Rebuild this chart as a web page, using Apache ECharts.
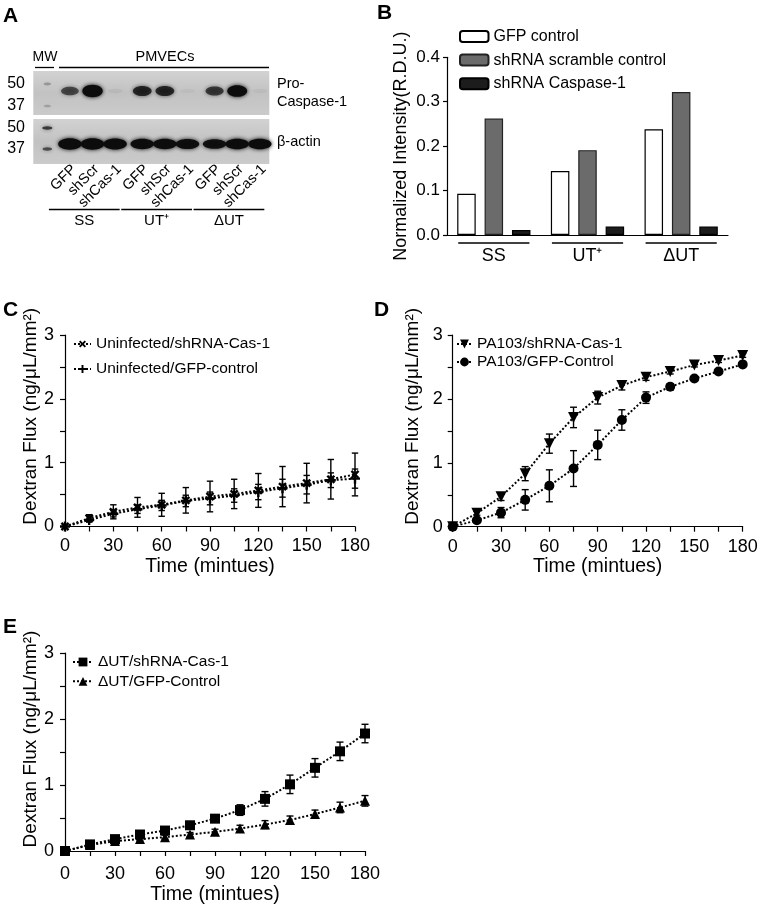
<!DOCTYPE html>
<html><head><meta charset="utf-8">
<script src="https://cdn.jsdelivr.net/npm/echarts@6/dist/echarts.min.js"></script>
<style>html,body{margin:0;padding:0;background:#fff}#c{width:762px;height:910px}</style>
</head><body><div id="c"></div><script>
const FONT = 'Liberation Sans, Arial, Helvetica, sans-serif';

// ---------- Panel A (western blot) ----------
const blotLaneLabels = ['GFP','shScr','shCas-1','GFP','shScr','shCas-1','GFP','shScr','shCas-1'];
const blotGroups = ['SS','UT⁺','ΔUT'];
const proCaspaseBand = [0.55, 1.0, 0.05, 0.72, 0.72, 0.03, 0.62, 0.92, 0.04];
const betaActinBand = [0.95, 0.95, 0.93, 0.86, 0.86, 0.84, 0.80, 0.88, 0.88];
const mwLabels = ['50','37'];
const ladderUpper = [0.25, 0.2];
const ladderLower = [0.7, 0.6];

// ---------- Panel B (bars) ----------
const barCategories = ['SS','UT⁺','ΔUT'];
const gfpControl = [0.093, 0.144, 0.238];
const shScramble = [0.262, 0.191, 0.322];
const shCaspase = [0.011, 0.019, 0.019];
const barTickLabels = ['0.0','0.1','0.2','0.3','0.4'];

// ---------- Panels C, D, E (flux) ----------
const timeMin = [0,15,30,45,60,75,90,105,120,135,150,165,180];
const xTickLabels = ['0','30','60','90','120','150','180'];
const yTickLabels = ['0','1','2','3'];

const uninfCas1    = [0,0.13,0.23,0.30,0.34,0.41,0.47,0.51,0.565,0.625,0.68,0.74,0.815];
const uninfCas1Err = [0,0.055,0.11,0.155,0.18,0.2,0.24,0.23,0.265,0.315,0.31,0.31,0.335];
const uninfGfp     = [0,0.10,0.20,0.27,0.33,0.40,0.44,0.485,0.54,0.60,0.655,0.725,0.75];
const uninfGfpErr  = [0,0.03,0.05,0.065,0.08,0.09,0.10,0.105,0.12,0.14,0.145,0.115,0.15];

const pa103Cas1    = [0,0.21,0.47,0.83,1.30,1.71,2.02,2.21,2.34,2.43,2.53,2.60,2.68];
const pa103Cas1Err = [0,0.03,0.06,0.11,0.15,0.16,0.10,0.07,0.05,0.04,0.03,0.03,0.03];
const pa103Gfp     = [0,0.10,0.22,0.42,0.64,0.91,1.28,1.67,2.02,2.19,2.32,2.43,2.54];
const pa103GfpErr  = [0,0.03,0.08,0.16,0.25,0.28,0.23,0.16,0.09,0.05,0.03,0.03,0.03];

const dutCas1      = [0,0.10,0.18,0.25,0.31,0.39,0.49,0.62,0.79,1.01,1.26,1.51,1.78];
const dutCas1Err   = [0,0.02,0.03,0.03,0.03,0.03,0.05,0.08,0.11,0.14,0.14,0.14,0.14];
const dutGfp       = [0,0.09,0.15,0.18,0.21,0.25,0.29,0.34,0.40,0.47,0.56,0.66,0.76];
const dutGfpErr    = [0,0.02,0.03,0.03,0.03,0.03,0.04,0.05,0.06,0.06,0.06,0.08,0.08];

// ---------------------------------------------------
const GROUP_STEP = 3.2;          // lane units between group starts
const laneX = i => Math.floor(i/3)*GROUP_STEP + (i%3);
const PRO_ROW = 20, ACTIN_ROW = 73;
const LADDER_UP = [13, 35], LADDER_LO = [57, 78];

const bandData = [];
proCaspaseBand.forEach((v,i)=>bandData.push([laneX(i), PRO_ROW, v, 0]));
betaActinBand.forEach((v,i)=>bandData.push([laneX(i), ACTIN_ROW, v, 1]));
ladderUpper.forEach((v,i)=>bandData.push([-1, LADDER_UP[i], v, 2]));
ladderLower.forEach((v,i)=>bandData.push([-1, LADDER_LO[i], v, 2]));

const plusPath = 'path://M3.8,0H6.2V3.8H10V6.2H6.2V10H3.8V6.2H0V3.8H3.8Z';

function fluxX(gi, nameGap, margin){
  return {type:'value', gridIndex:gi, min:0, max:180, interval:15,
    axisLine:{show:true, onZero:false, lineStyle:{color:'#000', width:1.2}},
    axisTick:{show:true, length:5, lineStyle:{color:'#000', width:1.2}},
    splitLine:{show:false},
    axisLabel:{fontSize:18, color:'#000', fontFamily:FONT, margin:margin,
      formatter: v => xTickLabels.indexOf(String(v))>=0 ? String(v) : ''},
    name:'Time (mintues)', nameLocation:'middle', nameGap:nameGap,
    nameTextStyle:{fontSize:19.5, color:'#000', fontFamily:FONT}};
}
function fluxY(gi, nameGap, margin, shift){
  return {type:'value', gridIndex:gi, min:0, max:3, interval:0.5,
    axisLine:{show:true, onZero:false, lineStyle:{color:'#000', width:1.2}},
    axisTick:{show:true, length:5, lineStyle:{color:'#000', width:1.2}},
    splitLine:{show:false},
    axisLabel:{fontSize:18, color:'#000', fontFamily:FONT, margin:margin,
      formatter: v => yTickLabels.indexOf(String(v))>=0 ? String(v) : ''},
    name:'Dextran Flux (ng/μL/mm²)', nameLocation:'middle', nameGap:nameGap, nameRotate:90,
    nameTextStyle:{fontSize:19, color:'#000', fontFamily:FONT, padding:[0,0,0,shift]}};
}
function lineSeries(name, gi, vals, symbol, size, rotate, lineType){
  return {type:'line', name:name, xAxisIndex:gi, yAxisIndex:gi,
    data: timeMin.map((t,i)=>[t, vals[i]]), symbol:symbol, symbolSize:size, symbolRotate:rotate||0,
    showAllSymbol:true, color:'#000', itemStyle:{color:'#000'},
    lineStyle:{color:'#000', width:2, type:lineType||[2,2]}, z:4};
}
function errSeries(gi, vals, errs, cap){
  return {type:'custom', xAxisIndex:gi, yAxisIndex:gi, silent:true, z:3, clip:false,
    data: timeMin.map((t,i)=>[t, vals[i], errs[i]]),
    renderItem:(p, api)=>{
      const t=api.value(0), v=api.value(1), e=api.value(2);
      if(!e) return {type:'group', children:[]};
      const a=api.coord([t, v+e]), b=api.coord([t, v-e]);
      const st={stroke:'#000', lineWidth:1.4};
      return {type:'group', children:[
        {type:'line', shape:{x1:a[0],y1:a[1],x2:b[0],y2:b[1]}, style:st},
        {type:'line', shape:{x1:a[0]-cap,y1:a[1],x2:a[0]+cap,y2:a[1]}, style:st},
        {type:'line', shape:{x1:b[0]-cap,y1:b[1],x2:b[0]+cap,y2:b[1]}, style:st}
      ]};
    }};
}

const txt = (text, x, y, opts) => Object.assign({type:'text', x:x, y:y, silent:true,
  style:Object.assign({text:text, fill:'#000', font:'14px '+FONT, align:'left', verticalAlign:'middle'}, opts||{})});
const letter = (t, x, y) => txt(t, x, y, {font:'bold 21px '+FONT, verticalAlign:'top'});

const option = {
  animation:false,
  backgroundColor:'#fff',
  textStyle:{fontFamily:FONT, color:'#000'},
  grid:[
    {left:33.3, top:71, width:236, height:93},
    {left:447, top:57.3, width:281, height:177.7},
    {left:65, top:335, width:290, height:191.5},
    {left:452.7, top:335, width:290, height:191.7},
    {left:65, top:653, width:300, height:198}
  ],
  xAxis:[
    {type:'value', gridIndex:0, min:-1.62, max:8.82, show:false},
    {type:'category', gridIndex:1, data:barCategories,
      axisLine:{lineStyle:{color:'#000', width:1.2}}, axisTick:{show:false},
      axisLabel:{fontSize:18, color:'#000', fontFamily:FONT, margin:12}},
    fluxX(2, 29, 11), fluxX(3, 29, 11), fluxX(4, 34, 14)
  ],
  yAxis:[
    {type:'value', gridIndex:0, min:0, max:93, inverse:true, show:false},
    {type:'value', gridIndex:1, min:0, max:0.4, interval:0.1,
      axisLine:{show:true, lineStyle:{color:'#000', width:1.2}},
      axisTick:{show:true, length:4, lineStyle:{color:'#000', width:1.2}},
      splitLine:{show:false},
      axisLabel:{fontSize:17, color:'#000', fontFamily:FONT, margin:7,
        formatter: v => barTickLabels[Math.round(v*10)]},
      name:'Normalized Intensity(R.D.U.)', nameLocation:'middle', nameGap:37, nameRotate:90,
      nameTextStyle:{fontSize:18, color:'#000', fontFamily:FONT}},
    fluxY(2, 22, 11, 29), fluxY(3, 30, 10, 29), fluxY(4, 22, 11, 26)
  ],
  legend:[
    {data:['GFP control','shRNA scramble control','shRNA Caspase-1'], orient:'vertical',
      left:454, top:23.5, itemWidth:28.5, itemHeight:11, itemGap:7.6, selectedMode:false,
      textStyle:{fontSize:16, color:'#000', fontFamily:FONT}},
    {data:['Uninfected/shRNA-Cas-1','Uninfected/GFP-control'], orient:'vertical',
      left:68, top:331, itemWidth:17, itemHeight:10, itemGap:9, selectedMode:false,
      textStyle:{fontSize:15.5, color:'#000', fontFamily:FONT}},
    {data:['PA103/shRNA-Cas-1','PA103/GFP-Control'], orient:'vertical',
      left:451, top:331, itemWidth:15, itemHeight:11, itemGap:2, selectedMode:false,
      textStyle:{fontSize:15.5, color:'#000', fontFamily:FONT}},
    {data:['ΔUT/shRNA-Cas-1','ΔUT/GFP-Control'], orient:'vertical',
      left:67, top:649, itemWidth:20, itemHeight:11, itemGap:3.3, selectedMode:false,
      textStyle:{fontSize:15.5, color:'#000', fontFamily:FONT}}
  ],
  graphic:[
    letter('A', 3, 6), letter('B', 377, 3), letter('C', 3, 300), letter('D', 374, 300), letter('E', 3, 617),
    txt('MW', 45, 57, {align:'center', font:'14px '+FONT}),
    txt('PMVECs', 165, 57, {align:'center', font:'14.5px '+FONT}),
    {type:'line', shape:{x1:35,y1:67.5,x2:54,y2:67.5}, style:{stroke:'#000', lineWidth:1.3}},
    {type:'line', shape:{x1:59,y1:67.5,x2:269,y2:67.5}, style:{stroke:'#000', lineWidth:1.3}},
    txt(mwLabels[0], 25, 84, {align:'right', font:'16px '+FONT}), txt(mwLabels[1], 25, 106, {align:'right', font:'16px '+FONT}),
    txt(mwLabels[0], 25, 128, {align:'right', font:'16px '+FONT}), txt(mwLabels[1], 25, 149, {align:'right', font:'16px '+FONT}),
    txt('Pro-', 277, 84, {font:'14.5px '+FONT}), txt('Caspase-1', 277, 101.5, {font:'14.5px '+FONT}),
    txt('β-actin', 277, 142, {font:'14.5px '+FONT})
  ],
  series:[
    // blot panels
    {type:'custom', xAxisIndex:0, yAxisIndex:0, silent:true, clip:false, z:1,
      data:[[0,44],[48,93]],
      renderItem:(p, api)=>{
        const a=api.coord([-1.62, api.value(0)]), b=api.coord([8.82, api.value(1)]);
        return {type:'rect', shape:{x:a[0], y:a[1], width:b[0]-a[0], height:b[1]-a[1]},
          style:{fill:{type:'linear', x:0, y:0, x2:0, y2:1, colorStops:[
            {offset:0, color:'#d2d2d2'},{offset:0.5, color:'#c2c2c2'},{offset:1, color:'#cbcbcb'}]}}};
      }},
    // bands
    {type:'custom', xAxisIndex:0, yAxisIndex:0, silent:true, clip:false, z:2,
      data:bandData,
      renderItem:(p, api)=>{
        const x=api.value(0), y=api.value(1), v=api.value(2), k=api.value(3);
        const c=api.coord([x,y]); const u=api.size([1,0])[0];
        let rx, ry, alpha;
        if(k===0){ rx=u*0.43*(0.75+0.3*v); ry=2+4.2*v; alpha=Math.min(1, v*1.1); }
        else if(k===1){ rx=u*0.52; ry=5.4*v+0.5; alpha=Math.min(1, 0.3+v*0.8); }
        else { rx=u*0.22*(0.6+v*0.6); ry=1.2+v*0.8; alpha=v; }
        return {type:'ellipse', shape:{cx:c[0], cy:c[1], rx:rx, ry:ry},
          style:{fill:'rgba(12,12,12,'+alpha+')', shadowBlur:4, shadowColor:'rgba(12,12,12,'+alpha+')'}};
      }},
    // lane labels
    {type:'custom', xAxisIndex:0, yAxisIndex:0, silent:true, clip:false, z:2,
      data:blotLaneLabels.map((s,i)=>[laneX(i), 93, i]),
      renderItem:(p, api)=>{
        const c=api.coord([api.value(0), api.value(1)]);
        return {type:'text', x:c[0]+4, y:c[1]+3, rotation:Math.PI/4,
          style:{text:blotLaneLabels[api.value(2)], font:'14.5px '+FONT, fill:'#000', align:'right', verticalAlign:'middle'}};
      }},
    // group lines + labels
    {type:'custom', xAxisIndex:0, yAxisIndex:0, silent:true, clip:false, z:2,
      data:blotGroups.map((g,i)=>[i*GROUP_STEP, 93, i]),
      renderItem:(p, api)=>{
        const s=api.value(0);
        const a=api.coord([s-0.93, 93]), b=api.coord([s+2.2, 93]);
        return {type:'group', children:[
          {type:'line', shape:{x1:a[0], y1:a[1]+45.5, x2:b[0], y2:a[1]+45.5}, style:{stroke:'#000', lineWidth:1.3}},
          {type:'text', x:(a[0]+b[0])/2, y:a[1]+57, style:{text:blotGroups[api.value(2)], font:'15px '+FONT, fill:'#000', align:'center', verticalAlign:'middle'}}
        ]};
      }},
    // bars
    {type:'bar', name:'GFP control', xAxisIndex:1, yAxisIndex:1, data:gfpControl, barWidth:18.5, barGap:'48%',
      itemStyle:{color:'#ffffff', borderColor:'#000', borderWidth:1.2}},
    {type:'bar', name:'shRNA scramble control', xAxisIndex:1, yAxisIndex:1, data:shScramble, barWidth:18.5, barGap:'48%',
      itemStyle:{color:'#6b6b6b', borderColor:'#222', borderWidth:1.2}},
    {type:'bar', name:'shRNA Caspase-1', xAxisIndex:1, yAxisIndex:1, data:shCaspase, barWidth:18.5, barGap:'48%',
      itemStyle:{color:'#1c1c1c', borderColor:'#000', borderWidth:1.2}},
    {type:'custom', xAxisIndex:1, yAxisIndex:1, silent:true, clip:false,
      data:barCategories.map((c,i)=>[i,0]),
      renderItem:(p, api)=>{
        const c=api.coord([api.value(0), 0]); const bw=api.size([1,0])[0];
        return {type:'line', shape:{x1:c[0]-bw*0.38, y1:c[1]+8, x2:c[0]+bw*0.38, y2:c[1]+8}, style:{stroke:'#000', lineWidth:1.3}};
      }},
    // C
    lineSeries('Uninfected/shRNA-Cas-1', 2, uninfCas1, plusPath, 10, 45),
    lineSeries('Uninfected/GFP-control', 2, uninfGfp, plusPath, 10, 0),
    errSeries(2, uninfCas1, uninfCas1Err, 3.2),
    errSeries(2, uninfGfp, uninfGfpErr, 3.2),
    // D
    lineSeries('PA103/shRNA-Cas-1', 3, pa103Cas1, 'triangle', 11, 180),
    lineSeries('PA103/GFP-Control', 3, pa103Gfp, 'circle', 10, 0),
    errSeries(3, pa103Cas1, pa103Cas1Err, 3.5),
    errSeries(3, pa103Gfp, pa103GfpErr, 3.5),
    // E
    lineSeries('ΔUT/shRNA-Cas-1', 4, dutCas1, 'rect', 10, 0),
    lineSeries('ΔUT/GFP-Control', 4, dutGfp, 'triangle', 10, 0),
    errSeries(4, dutCas1, dutCas1Err, 3.5),
    errSeries(4, dutGfp, dutGfpErr, 3.5)
  ]
};
const chart = echarts.init(document.getElementById('c'), null, {renderer:'canvas', width:762, height:910});
chart.setOption(option);
</script></body></html>
